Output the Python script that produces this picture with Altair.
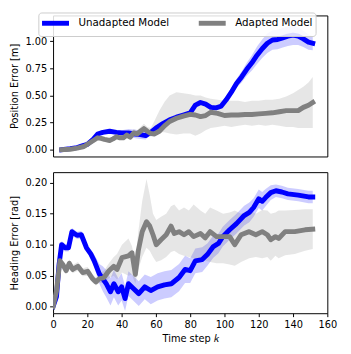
import altair as alt
import pandas as pd

# ---------------- data ----------------
series_names = ["Unadapted Model", "Adapted Model"]
series_colors = ["#0000ff", "#808080"]

x_ticks = [0, 20, 40, 60, 80, 100, 120, 140, 160]
pos_ticks = [0.0, 0.25, 0.5, 0.75, 1.0]
head_ticks = [0.0, 0.05, 0.1, 0.15, 0.2]

# Position error, unadapted model
pos_un_k = [5, 10, 14, 17, 20, 23, 26, 29, 33, 37, 40, 44, 48, 51, 54, 57, 60, 64, 68, 72,
            76, 80, 83, 86, 89, 92, 95, 98, 101, 104, 107, 110, 113, 116, 119, 122, 125, 128,
            131, 134, 137, 140, 143, 146, 149, 151.5]
pos_un_mean = [0.0, 0.01, 0.02, 0.035, 0.05, 0.09, 0.145, 0.16, 0.17, 0.16, 0.155, 0.155,
               0.145, 0.14, 0.13, 0.16, 0.2, 0.24, 0.275, 0.3, 0.32, 0.34, 0.41, 0.435, 0.42,
               0.39, 0.385, 0.40, 0.46, 0.53, 0.61, 0.67, 0.74, 0.80, 0.87, 0.93, 0.98, 1.01,
               1.015, 1.03, 1.045, 1.055, 1.045, 1.02, 0.99, 0.98]
pos_un_half = [0.005, 0.01, 0.01, 0.01, 0.01, 0.015, 0.015, 0.015, 0.015, 0.02, 0.025, 0.035,
               0.04, 0.04, 0.035, 0.02, 0.015, 0.015, 0.01, 0.01, 0.01, 0.01, 0.015, 0.02, 0.02,
               0.02, 0.02, 0.025, 0.03, 0.035, 0.04, 0.05, 0.06, 0.07, 0.08, 0.085, 0.09, 0.09,
               0.09, 0.09, 0.09, 0.09, 0.08, 0.075, 0.07, 0.065]

# Position error, adapted model
pos_ad_k = [5, 10, 14, 18, 21, 24, 26, 28, 30, 33, 35, 37, 39, 41, 43, 45, 47, 49, 51, 53, 55,
            57, 59, 62, 65, 68, 72, 76, 80, 83, 86, 89, 92, 96, 100, 104, 108, 112, 116, 120,
            124, 128, 132, 136, 140, 143, 146, 149, 151.5]
pos_ad_mean = [0.0, 0.005, 0.015, 0.03, 0.06, 0.09, 0.11, 0.105, 0.095, 0.085, 0.10, 0.12,
               0.11, 0.11, 0.135, 0.115, 0.155, 0.145, 0.17, 0.195, 0.17, 0.15, 0.145, 0.17,
               0.22, 0.26, 0.29, 0.31, 0.325, 0.32, 0.305, 0.315, 0.345, 0.335, 0.315, 0.32,
               0.32, 0.325, 0.325, 0.33, 0.335, 0.34, 0.35, 0.36, 0.36, 0.36, 0.39, 0.41, 0.435]
pos_ad_lo = [0.0, 0.0, 0.005, 0.02, 0.05, 0.08, 0.10, 0.095, 0.085, 0.075, 0.09, 0.11, 0.10,
             0.10, 0.12, 0.09, 0.12, 0.12, 0.14, 0.16, 0.14, 0.12, 0.13, 0.16, 0.16, 0.15, 0.14,
             0.15, 0.15, 0.13, 0.15, 0.18, 0.20, 0.21, 0.22, 0.21, 0.22, 0.23, 0.22, 0.23, 0.22,
             0.23, 0.22, 0.21, 0.21, 0.20, 0.20, 0.20, 0.20]
pos_ad_hi = [0.0, 0.01, 0.025, 0.04, 0.07, 0.10, 0.12, 0.115, 0.105, 0.095, 0.11, 0.13, 0.12,
             0.12, 0.15, 0.14, 0.19, 0.18, 0.21, 0.24, 0.21, 0.20, 0.26, 0.36, 0.44, 0.50, 0.53,
             0.52, 0.51, 0.50, 0.50, 0.48, 0.47, 0.46, 0.45, 0.45, 0.45, 0.44, 0.45, 0.45, 0.46,
             0.46, 0.47, 0.49, 0.52, 0.55, 0.58, 0.62, 0.67]

# Heading error, unadapted model
head_un_k = [0, 2, 3.5, 5, 7, 9, 11, 14, 16.5, 19.5, 22, 24, 27, 29, 31, 33.5, 35.5, 38, 40, 42,
             44, 47, 50, 53.5, 57, 61, 65, 69, 73.5, 77, 80, 83, 87, 90, 93.5, 96.5, 99, 103,
             107, 111.5, 114.5, 117, 120, 122, 124, 127, 130, 133.5, 137, 143, 149, 151.5]
head_un_mean = [0.0, 0.016, 0.068, 0.10, 0.095, 0.095, 0.121, 0.115, 0.116, 0.095, 0.085,
                0.074, 0.053, 0.045, 0.037, 0.024, 0.037, 0.024, 0.032, 0.013, 0.037, 0.029,
                0.021, 0.032, 0.026, 0.032, 0.035, 0.037, 0.047, 0.06, 0.058, 0.074, 0.076,
                0.084, 0.097, 0.102, 0.113, 0.124, 0.134, 0.147, 0.152, 0.16, 0.174, 0.17,
                0.176, 0.184, 0.187, 0.185, 0.182, 0.18, 0.177, 0.177]
head_un_half = [0.002, 0.004, 0.006, 0.006, 0.006, 0.006, 0.006, 0.006, 0.006, 0.006,
                0.007, 0.01, 0.016, 0.02, 0.022, 0.022, 0.022, 0.022, 0.022, 0.02,
                0.02, 0.02, 0.02, 0.02, 0.022, 0.022, 0.022, 0.022, 0.022, 0.022,
                0.02, 0.02, 0.02, 0.018, 0.018, 0.016, 0.016, 0.016, 0.016, 0.016,
                0.016, 0.015, 0.015, 0.015, 0.014, 0.012, 0.01, 0.01, 0.01, 0.01,
                0.01, 0.01]

# Heading error, adapted model
head_ad_k = [0, 2, 4, 5.7, 7.6, 9.5, 11.4, 14.5, 17.3, 20.2, 23, 25, 27, 29.7, 32.6, 35.4,
             37.3, 40.2, 44, 46, 48, 49.7, 52, 54.5, 56.4, 58.3, 60.2, 63, 66, 68.8, 70.7,
             73.5, 76.4, 79.2, 82, 86, 88.8, 91.6, 95.4, 99.2, 103, 106, 109.7, 114.4, 118.3,
             122, 125, 127, 129.7, 131.6, 135.4, 141, 147, 151.5]
head_ad_mean = [0.0, 0.025, 0.074, 0.068, 0.058, 0.07, 0.06, 0.065, 0.055, 0.057, 0.045,
                0.04, 0.045, 0.047, 0.058, 0.065, 0.06, 0.079, 0.082, 0.087, 0.052, 0.09,
                0.121, 0.137, 0.13, 0.116, 0.10, 0.108, 0.116, 0.13, 0.118, 0.121, 0.116,
                0.121, 0.113, 0.118, 0.111, 0.121, 0.113, 0.113, 0.113, 0.10, 0.116, 0.121,
                0.116, 0.121, 0.116, 0.108, 0.113, 0.11, 0.121, 0.121, 0.124, 0.125]
head_ad_lo = [0.0, 0.02, 0.066, 0.062, 0.052, 0.064, 0.054, 0.058, 0.049, 0.05, 0.039, 0.034,
              0.038, 0.038, 0.046, 0.05, 0.044, 0.055, 0.05, 0.052, 0.037, 0.06, 0.08, 0.095,
              0.09, 0.08, 0.072, 0.075, 0.08, 0.088, 0.09, 0.085, 0.082, 0.08, 0.078, 0.076,
              0.074, 0.072, 0.07, 0.07, 0.068, 0.066, 0.072, 0.078, 0.08, 0.078, 0.08, 0.074,
              0.082, 0.078, 0.083, 0.085, 0.09, 0.093]
head_ad_hi = [0.0, 0.03, 0.08, 0.074, 0.066, 0.076, 0.067, 0.072, 0.062, 0.064, 0.052, 0.047,
              0.054, 0.058, 0.07, 0.08, 0.085, 0.1, 0.11, 0.098, 0.075, 0.12, 0.17, 0.206, 0.18,
              0.15, 0.14, 0.145, 0.15, 0.162, 0.165, 0.155, 0.16, 0.155, 0.165, 0.155, 0.15,
              0.16, 0.155, 0.15, 0.152, 0.155, 0.15, 0.156, 0.15, 0.156, 0.155, 0.15, 0.152,
              0.155, 0.155, 0.156, 0.157, 0.157]

# ---------------- tables ----------------
def sym_df(k, mean, half, name):
    return pd.DataFrame({"k": k, "mean": mean,
                         "lo": [m - h for m, h in zip(mean, half)],
                         "hi": [m + h for m, h in zip(mean, half)],
                         "series": name})

def band_df(k, mean, lo, hi, name):
    return pd.DataFrame({"k": k, "mean": mean, "lo": lo, "hi": hi, "series": name})

pos_un = sym_df(pos_un_k, pos_un_mean, pos_un_half, series_names[0])
pos_ad = band_df(pos_ad_k, pos_ad_mean, pos_ad_lo, pos_ad_hi, series_names[1])
head_un = sym_df(head_un_k, head_un_mean, head_un_half, series_names[0])
head_ad = band_df(head_ad_k, head_ad_mean, head_ad_lo, head_ad_hi, series_names[1])

FONT = "DejaVu Sans"
color_scale = alt.Scale(domain=series_names, range=series_colors)


def panel(df_un, df_ad, ydom, yticks, ytitle, bottom):
    if bottom:
        xaxis = alt.Axis(values=x_ticks, title="Time step 𝑘", format="d",
                         labelFlush=False, tickSize=3.5, labelPadding=3, titlePadding=4)
    else:
        xaxis = None
    x = alt.X("k:Q", scale=alt.Scale(domain=[0, 160], nice=False, zero=False), axis=xaxis)
    yscale = alt.Scale(domain=ydom, nice=False, zero=False)
    yaxis = alt.Axis(values=yticks, format=".2f", title=ytitle, tickSize=3.5,
                     labelPadding=3, titlePadding=6)

    band_un = alt.Chart(df_un).mark_area(color=series_colors[0], opacity=0.2, clip=True).encode(
        x=x, y=alt.Y("lo:Q", scale=yscale, axis=yaxis), y2="hi:Q")
    band_ad = alt.Chart(df_ad).mark_area(color=series_colors[1], opacity=0.2, clip=True).encode(
        x=x, y=alt.Y("lo:Q", scale=yscale, axis=yaxis), y2="hi:Q")
    legend = alt.Legend(title=None, orient="none", legendX=-15, legendY=-3,
                        direction="horizontal", columns=2,
                        symbolType="M-2.5,0H2.5", symbolSize=121,
                        symbolStrokeWidth=5, symbolOffset=6.5, labelFontSize=10.5,
                        labelFont=FONT, labelColor="#000000", labelOffset=15.5,
                        columnPadding=19, padding=3, strokeColor="#cccccc",
                        fillColor="rgba(255,255,255,0.85)", cornerRadius=3)
    line_un = alt.Chart(df_un).mark_line(strokeWidth=5, strokeCap="square", strokeJoin="round",
                                         clip=True).encode(
        x=x, y=alt.Y("mean:Q", scale=yscale, axis=yaxis),
        color=alt.Color("series:N", scale=color_scale, legend=legend))
    line_ad = alt.Chart(df_ad).mark_line(strokeWidth=5, strokeCap="square", strokeJoin="round",
                                         clip=True).encode(
        x=x, y=alt.Y("mean:Q", scale=yscale, axis=yaxis),
        color=alt.Color("series:N", scale=color_scale, legend=legend))
    return alt.layer(band_un, band_ad, line_un, line_ad).properties(width=280, height=144)


top = panel(pos_un, pos_ad, [-0.062, 1.236], pos_ticks, "Position Error [m]", False)
bot = panel(head_un, head_ad, [-0.0106, 0.217], head_ticks, "Heading Error [rad]", True)

chart = alt.vconcat(top, bot, spacing=14).properties(
    padding={"left": 0, "top": 0, "right": 5, "bottom": 5}
).configure_view(
    stroke="#000000", strokeWidth=1
).configure_axis(
    grid=False, domain=False, labelFont=FONT, titleFont=FONT, labelFontSize=10,
    titleFontSize=10, titleFontWeight="normal", labelColor="#000000",
    titleColor="#000000", tickColor="#000000", tickWidth=1
)

chart.save("out.html", embed_options={"renderer": "svg", "actions": False})
